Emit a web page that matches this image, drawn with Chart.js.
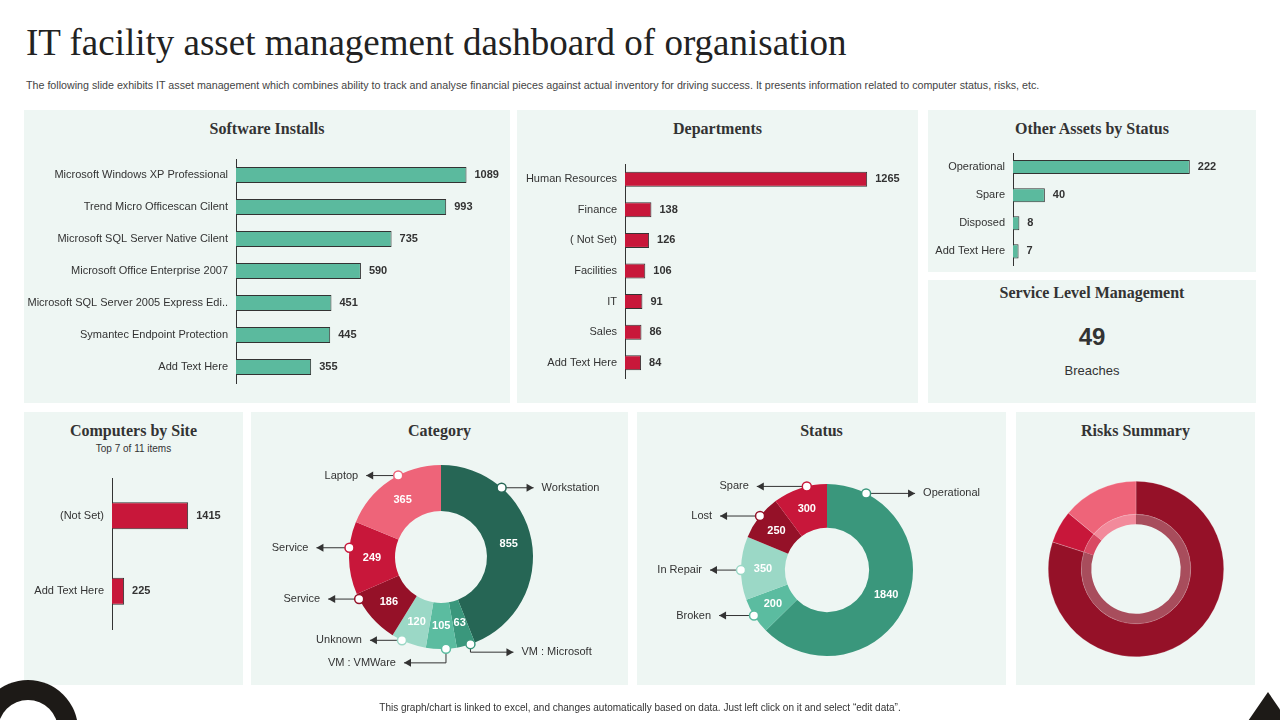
<!DOCTYPE html>
<html><head><meta charset="utf-8">
<script src="https://cdn.jsdelivr.net/npm/chart.js@4"></script>
<style>
body{margin:0;width:1280px;height:720px;background:#fff;position:relative;overflow:hidden;font-family:"Liberation Sans",Arial,sans-serif;color:#333}
.p{position:absolute;background:#EEF6F3}
.p canvas{position:absolute;left:0;top:0}
.t{position:absolute;left:0;right:0;text-align:center;font-family:"Liberation Serif",serif;font-weight:bold;font-size:16px;color:#333;top:10px}
#title{position:absolute;left:26px;top:21px;font-family:"Liberation Serif",serif;font-size:37px;color:#222}
#sub{position:absolute;left:26px;top:79px;font-size:10.7px;color:#444}
#foot{position:absolute;left:0;width:1280px;text-align:center;top:702px;font-size:10px;color:#333}
</style></head><body>
<div id="title">IT facility asset management dashboard of organisation</div>
<div id="sub">The following slide exhibits IT asset management which combines ability to track and analyse financial pieces against actual inventory for driving success. It presents information related to computer status, risks, etc.</div>

<div class="p" style="left:24px;top:110px;width:486px;height:293px"><div class="t">Software Installs</div><canvas id="c1" width="486" height="293"></canvas></div>
<div class="p" style="left:517px;top:110px;width:401px;height:293px"><div class="t">Departments</div><canvas id="c2" width="401" height="293"></canvas></div>
<div class="p" style="left:928px;top:110px;width:328px;height:162px"><div class="t">Other Assets by Status</div><canvas id="c3" width="328" height="170"></canvas></div>
<div class="p" style="left:928px;top:280px;width:328px;height:123px"><div class="t" style="top:4px">Service Level Management</div>
<div style="position:absolute;left:0;right:0;top:43px;text-align:center;font-size:24px;font-weight:bold;color:#333" id="slmv"></div>
<div style="position:absolute;left:0;right:0;top:83px;text-align:center;font-size:13px;color:#333">Breaches</div></div>
<div class="p" style="left:24px;top:412px;width:219px;height:273px"><div class="t">Computers by Site</div>
<div style="position:absolute;left:0;right:0;top:31px;text-align:center;font-size:10px">Top 7 of 11 items</div><canvas id="c4" width="219" height="273"></canvas></div>
<div class="p" style="left:251px;top:412px;width:377px;height:273px"><div class="t">Category</div><canvas id="c5" width="377" height="273"></canvas></div>
<div class="p" style="left:637px;top:412px;width:369px;height:273px"><div class="t">Status</div><canvas id="c6" width="369" height="273"></canvas></div>
<div class="p" style="left:1016px;top:412px;width:239px;height:273px"><div class="t">Risks Summary</div><canvas id="c7" width="239" height="273"></canvas></div>

<div style="position:absolute;left:-22px;top:680px;width:100px;height:100px;border-radius:50%;background:#1d1a17"></div>
<div style="position:absolute;left:-2px;top:700px;width:60px;height:60px;border-radius:50%;background:#fff"></div>
<div style="position:absolute;left:1246px;top:692px;width:0;height:0;border-left:22px solid transparent;border-right:22px solid transparent;border-bottom:32px solid #1d1a17"></div>
<div id="foot">This graph/chart is linked to excel, and changes automatically based on data. Just left click on it and select “edit data”.</div>

<script>
const softwareLabels=["Microsoft Windows XP Professional","Trend Micro Officescan Cilent","Microsoft SQL Server Native Cilent","Microsoft Office Enterprise 2007","Microsoft SQL Server 2005 Express Edi..","Symantec Endpoint Protection","Add Text Here"];
const softwareValues=[1089,993,735,590,451,445,355];
const deptLabels=["Human Resources","Finance","( Not Set)","Facilities","IT","Sales","Add Text Here"];
const deptValues=[1265,138,126,106,91,86,84];
const otherLabels=["Operational","Spare","Disposed","Add Text Here"];
const otherValues=[222,40,8,7];
const serviceBreaches=49;
const siteLabels=["(Not Set)","Add Text Here"];
const siteValues=[1415,225];
const categoryLabels=["Workstation","VM : Microsoft","VM : VMWare","Unknown","Service","Service","Laptop"];
const categoryValues=[855,63,105,120,186,249,365];
const statusLabels=["Operational","Broken","In Repair","Lost","Spare"];
const statusValues=[1840,200,350,250,300];
const riskLabels=["High","Medium","Low"];
const riskValues=[80,6,14];

document.getElementById('slmv').textContent=serviceBreaches;
const FONT='"Liberation Sans", Arial, sans-serif';

const barLabels={id:'barLabels',afterDatasetsDraw(ch){const c=ch.ctx;const m=ch.getDatasetMeta(0);c.save();c.font='bold 11px '+FONT;c.fillStyle='#333';c.textBaseline='middle';
m.data.forEach((b,i)=>{c.fillText(ch.data.datasets[0].data[i],b.x+8,b.y);});c.restore();}};

function hbar(id,labels,vals,color,max,pad,yw,bp){
 new Chart(document.getElementById(id),{type:'bar',data:{labels,datasets:[{data:vals,backgroundColor:color,borderColor:'#333',borderWidth:{top:1,right:1,bottom:1,left:0},barPercentage:bp,categoryPercentage:1}]},
 options:{indexAxis:'y',responsive:false,animation:false,layout:{padding:pad},plugins:{legend:{display:false},tooltip:{enabled:false}},
 scales:{x:{display:false,min:0,max},y:{afterFit(s){s.width=yw;},grid:{display:true,drawOnChartArea:false,drawTicks:false},border:{display:true,color:'#333'},ticks:{color:'#333',padding:8,font:{size:11,family:FONT}}}}},plugins:[barLabels]});
}
hbar('c1',softwareLabels,softwareValues,'#5BBA9E',1200,{top:49,bottom:20,right:20,left:0},212,0.5);
hbar('c2',deptLabels,deptValues,'#C8173A',1400,{top:54,bottom:25,right:25,left:0},108,0.49);
hbar('c3',otherLabels,otherValues,'#5BBA9E',280,{top:43,bottom:0,right:20,left:0},85,0.5);
hbar('c4',siteLabels,siteValues,'#C8173A',2100,{top:66,bottom:56,right:18,left:0},88,0.36);

function donutPlugin(callouts,showVals){return {id:'dn',afterDatasetsDraw(ch){
 const c=ch.ctx;const m=ch.getDatasetMeta(0);c.save();
 if(showVals){c.font='bold 11px '+FONT;c.fillStyle='#fff';c.textAlign='center';c.textBaseline='middle';
 m.data.forEach((a,i)=>{const ang=(a.startAngle+a.endAngle)/2,r=(a.innerRadius+a.outerRadius)/2;c.fillText(ch.data.datasets[0].data[i],a.x+Math.cos(ang)*r,a.y+Math.sin(ang)*r);});}
 callouts.forEach(co=>{const a=m.data[co.i];const ang=a.startAngle+(a.endAngle-a.startAngle)*co.f;const r=a.outerRadius;
  const px=a.x+Math.cos(ang)*r,py=a.y+Math.sin(ang)*r;let ex,ey=py+(co.dy||0);
  c.strokeStyle='#333';c.fillStyle='#333';c.lineWidth=1;c.beginPath();c.moveTo(px,py);
  if(co.dy){c.lineTo(px,ey);} ex=px+co.len*co.dir;c.lineTo(ex,ey);c.stroke();
  c.beginPath();c.moveTo(ex,ey);c.lineTo(ex-7*co.dir,ey-4);c.lineTo(ex-7*co.dir,ey+4);c.closePath();c.fill();
  c.font='11px '+FONT;c.textBaseline='middle';c.textAlign=co.dir>0?'left':'right';c.fillText(ch.data.labels[co.i],ex+8*co.dir,ey);
  c.beginPath();c.arc(px,py,4.5,0,Math.PI*2);c.fillStyle='#fff';c.fill();c.strokeStyle=ch.data.datasets[0].backgroundColor[co.i];c.lineWidth=1.5;c.stroke();
 });c.restore();}};}

new Chart(document.getElementById('c5'),{type:'doughnut',data:{labels:categoryLabels,datasets:[{data:categoryValues,backgroundColor:['#266655','#3A977C','#5BBCA0','#9BD8C6','#951128','#C8173A','#EE6479'],borderWidth:0}]},
 options:{responsive:false,animation:false,cutout:'50%',layout:{padding:{left:98,right:95,top:53,bottom:36}},plugins:{legend:{display:false},tooltip:{enabled:false}}},
 plugins:[donutPlugin([{i:0,f:0.26,dir:1,len:32},{i:1,f:0.25,dir:1,len:43,dy:8},{i:2,f:0.35,dir:-1,len:42,dy:14},{i:3,f:0.7,dir:-1,len:32},{i:4,f:0.9,dir:-1,len:31},{i:5,f:0.64,dir:-1,len:33},{i:6,f:0.59,dir:-1,len:32}],true)]});

new Chart(document.getElementById('c6'),{type:'doughnut',data:{labels:statusLabels,datasets:[{data:statusValues,backgroundColor:['#3A977C','#5BBCA0','#9BD8C6','#951128','#C8173A'],borderWidth:0}]},
 options:{responsive:false,animation:false,cutout:'49%',layout:{padding:{left:104,right:93,top:72,bottom:29}},plugins:{legend:{display:false},tooltip:{enabled:false}}},
 plugins:[donutPlugin([{i:0,f:0.12,dir:1,len:49},{i:1,f:0.52,dir:-1,len:35},{i:2,f:0.47,dir:-1,len:31},{i:3,f:0.53,dir:-1,len:40},{i:4,f:0.63,dir:-1,len:50}],true)]});

new Chart(document.getElementById('c7'),{type:'doughnut',data:{labels:riskLabels,datasets:[
 {data:riskValues,backgroundColor:['#951128','#C8173A','#EE6479'],borderColor:'rgba(255,255,255,0.4)',borderWidth:0.5,weight:33},
 {data:riskValues,backgroundColor:['#A84D5C','#D94A63','#F28A9B'],borderWidth:0,weight:10}]},
 options:{responsive:false,animation:false,cutout:'51%',layout:{padding:{left:32,right:31,top:69,bottom:28}},plugins:{legend:{display:false},tooltip:{enabled:false}}}});
</script></body></html>
